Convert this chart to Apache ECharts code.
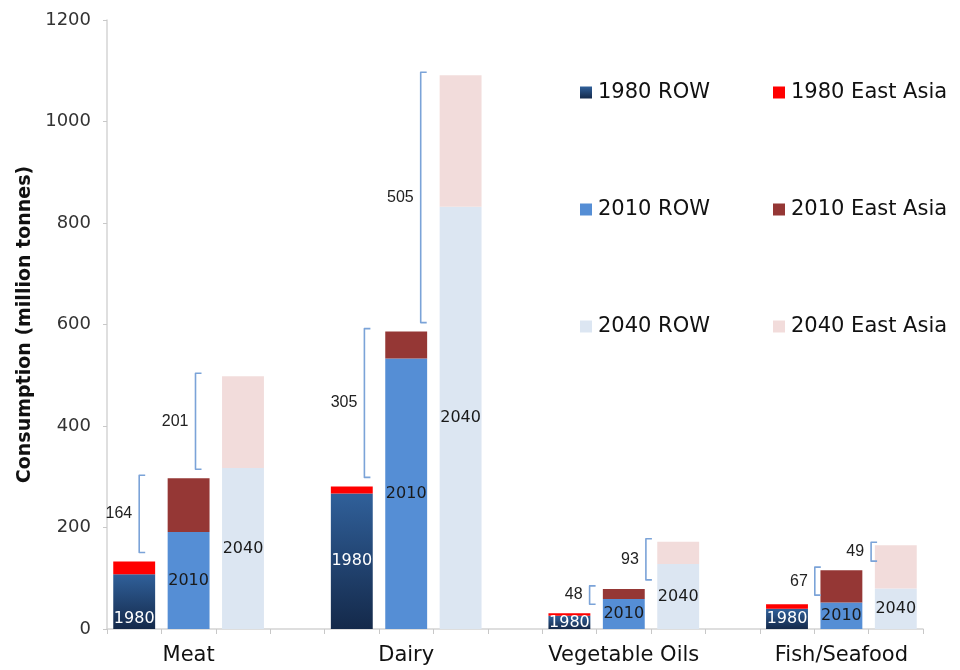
<!DOCTYPE html>
<html>
<head>
<meta charset="utf-8">
<script src="https://cdn.jsdelivr.net/npm/echarts@6/dist/echarts.min.js"></script>
<style>
  html, body { margin: 0; padding: 0; background: #ffffff; }
  #chart { width: 960px; height: 670px; }
</style>
</head>
<body>
<div id="chart"></div>
<script>
// ---- data (million tonnes) ----
const categories = ['Meat', 'Dairy', 'Vegetable Oils', 'Fish/Seafood'];
const years = ['1980', '2010', '2040'];
const row1980 = [108, 267, 26, 40];
const eastAsia1980 = [25, 14, 5, 9];
const row2010 = [191, 533, 59, 52];
const eastAsia2010 = [106, 53, 20, 64];
const row2040 = [317, 832, 128, 80];
const eastAsia2040 = [181, 259, 44, 85];
const increase1980to2010 = [164, 305, 48, 67];
const increase2010to2040 = [201, 505, 93, 49];
const yTicks = [0, 200, 400, 600, 800, 1000, 1200];

// ---- build slots: 3 bars per group + an empty gap slot between groups ----
const slotsPerGroup = 4;
const slotCount = categories.length * slotsPerGroup - 1;
const xLabels = new Array(slotCount).fill('');
categories.forEach((c, g) => { xLabels[g * slotsPerGroup + 1] = c; });

function slotData(values, yearIdx, withLabelOverride) {
  const arr = new Array(slotCount).fill('-');
  values.forEach((v, g) => {
    const item = { value: v };
    if (withLabelOverride && g === 0) {
      item.label = { position: 'insideBottom', distance: 2 };
    }
    arr[g * slotsPerGroup + yearIdx] = item;
  });
  return arr;
}

const rowSets = [row1980, row2010, row2040];
const eaSets = [eastAsia1980, eastAsia2010, eastAsia2040];
const rowColors = [
  new echarts.graphic.LinearGradient(0, 0, 0, 1, [
    { offset: 0, color: '#30609a' },
    { offset: 1, color: '#14294a' }
  ]),
  '#558ed5',
  '#dce6f2'
];
const eaColors = ['#ff0000', '#953735', '#f2dcdb'];
const labelColors = ['#ffffff', '#1a1a1a', '#1a1a1a'];

const series = [];
years.forEach((y, i) => {
  series.push({
    name: y + ' ROW',
    type: 'bar',
    stack: 'all',
    barCategoryGap: '23%',
    itemStyle: { color: rowColors[i] },
    label: {
      show: true,
      position: 'inside',
      formatter: y,
      color: labelColors[i],
      fontSize: 16,
      fontFamily: 'DejaVu Sans'
    },
    data: slotData(rowSets[i], i, i === 0)
  });
  series.push({
    name: y + ' East Asia',
    type: 'bar',
    stack: 'all',
    barCategoryGap: '23%',
    itemStyle: { color: eaColors[i] },
    data: slotData(eaSets[i], i, false)
  });
});

// brackets showing the increase between consecutive totals
const bracketData = [];
categories.forEach((c, g) => {
  const t1980 = row1980[g] + eastAsia1980[g];
  const t2010 = row2010[g] + eastAsia2010[g];
  const t2040 = row2040[g] + eastAsia2040[g];
  bracketData.push([g * slotsPerGroup, t1980, t2010, increase1980to2010[g]]);
  bracketData.push([g * slotsPerGroup + 1, t2010, t2040, increase2010to2040[g]]);
});

series.push({
  type: 'custom',
  name: 'brackets',
  z: 10,
  silent: true,
  encode: { x: 0, y: [1, 2] },
  data: bracketData,
  renderItem: function (params, api) {
    const idx = api.value(0);
    const lo = api.value(1);
    const hi = api.value(2);
    const inc = api.value(3);
    const pLo = api.coord([idx, lo]);
    const pHi = api.coord([idx, hi]);
    const x = pLo[0] + 5 + 1.9 * idx;
    const yb = pLo[1] - 9;
    const yt = pHi[1] - 3;
    return {
      type: 'group',
      children: [
        {
          type: 'polyline',
          shape: { points: [[x + 6, yt], [x, yt], [x, yb], [x + 6, yb]] },
          style: { stroke: '#7ba3d8', lineWidth: 1.6, fill: null, lineJoin: 'round' }
        },
        {
          type: 'text',
          style: {
            text: String(inc),
            x: x - 7,
            y: (yt + yb) / 2,
            align: 'right',
            verticalAlign: 'middle',
            fontSize: 16,
            fontFamily: 'Liberation Sans',
            fill: '#222222'
          }
        }
      ]
    };
  }
});

const chart = echarts.init(document.getElementById('chart'));
const legendText = { fontSize: 21, fontFamily: 'DejaVu Sans', color: '#111111', padding: [0, 0, 0, 1] };
chart.setOption({
  animation: false,
  backgroundColor: '#ffffff',
  grid: { left: 107, right: 37, top: 20, bottom: 41, containLabel: false },
  legend: [
    {
      orient: 'vertical', left: 575, top: 77, itemGap: 96,
      itemWidth: 12, itemHeight: 12, icon: 'rect', selectedMode: false,
      textStyle: legendText,
      data: years.map(y => y + ' ROW')
    },
    {
      orient: 'vertical', left: 768, top: 77, itemGap: 96,
      itemWidth: 12, itemHeight: 12, icon: 'rect', selectedMode: false,
      textStyle: legendText,
      data: years.map(y => y + ' East Asia')
    }
  ],
  xAxis: {
    type: 'category',
    data: xLabels,
    boundaryGap: true,
    axisLine: { lineStyle: { color: '#d4d4d4', width: 1.5 } },
    axisTick: { show: true, interval: 0, length: 5, lineStyle: { color: '#c8c8c8' } },
    axisLabel: {
      interval: 0, margin: 16, fontSize: 21, fontFamily: 'DejaVu Sans', color: '#111111'
    },
    splitLine: { show: false }
  },
  yAxis: {
    type: 'value',
    min: yTicks[0],
    max: yTicks[yTicks.length - 1],
    interval: yTicks[1] - yTicks[0],
    name: 'Consumption (million tonnes)',
    nameLocation: 'middle',
    nameGap: 52,
    nameTextStyle: { fontSize: 19, fontWeight: 'bold', fontFamily: 'DejaVu Sans', color: '#111111' },
    axisLine: { show: true, lineStyle: { color: '#d4d4d4', width: 1.5 } },
    axisTick: { show: true, length: 4, lineStyle: { color: '#c8c8c8' } },
    axisLabel: {
      margin: 16, fontSize: 18, fontFamily: 'DejaVu Sans', color: '#333333',
      formatter: function (v) { return String(v); }
    },
    splitLine: { show: false }
  },
  series: series
});
</script>
</body>
</html>
